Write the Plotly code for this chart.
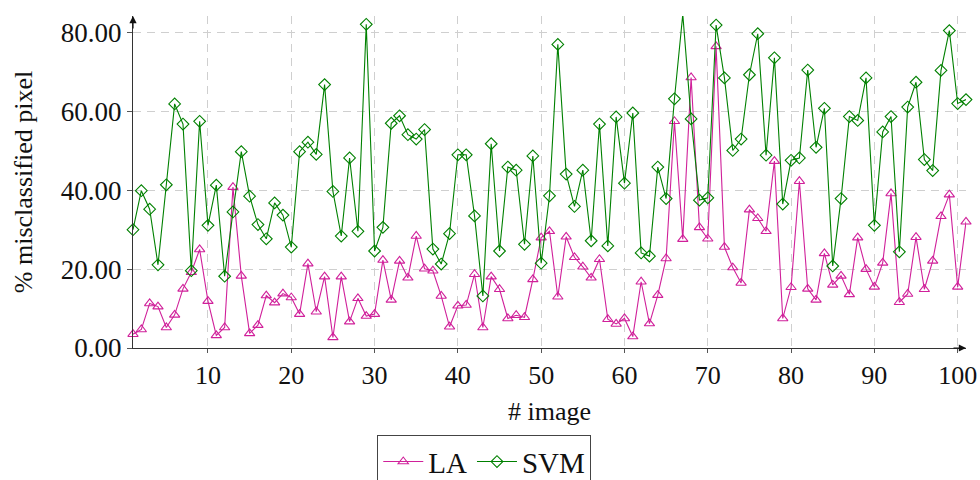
import plotly.graph_objects as go

# image index 1..101
image_idx = list(range(1, 102))

la_error = [
    3.5, 4.7, 11.3, 10.5, 5.2, 8.4, 15.0, 19.2, 25.0, 11.9,
    3.2, 5.2, 40.8, 18.3, 3.7, 5.8, 13.3, 11.5, 13.8, 12.8,
    8.6, 21.4, 9.2, 18.1, 2.7, 18.1, 6.7, 12.6, 8.1, 8.6,
    22.3, 12.2, 22.1, 17.8, 28.4, 20.1, 19.6, 13.2, 5.4, 10.7,
    10.9, 18.7, 5.2, 18.1, 14.9, 7.5, 8.3, 7.8, 17.4, 28.0,
    29.6, 13.0, 28.2, 23.0, 20.6, 17.8, 22.5, 7.3, 6.1, 7.5,
    2.9, 16.8, 6.2, 13.4, 22.7, 57.5, 27.6, 68.6, 30.6, 27.7,
    76.5, 25.6, 20.4, 16.5, 35.1, 32.9, 29.6, 47.4, 7.5, 15.4,
    42.3, 15.0, 12.2, 24.0, 16.0, 18.3, 13.6, 28.0, 20.0, 15.5,
    21.6, 39.2, 11.6, 13.7, 28.1, 14.9, 22.1, 33.4, 38.9, 15.5,
    32.0,
]

svm_error = [
    30.0, 39.9, 35.2, 21.1, 41.4, 61.9, 56.8, 19.6, 57.5, 31.1,
    41.3, 18.2, 34.5, 49.8, 38.5, 31.3, 27.7, 36.8, 33.7, 25.6,
    49.8, 52.2, 49.1, 66.8, 39.7, 28.4, 48.2, 29.6, 82.1, 24.6,
    30.6, 57.0, 58.9, 54.1, 53.0, 55.4, 25.1, 21.3, 29.0, 49.0,
    49.0, 33.5, 13.2, 51.8, 24.6, 45.9, 45.1, 26.3, 48.7, 21.5,
    38.6, 77.0, 44.1, 35.9, 45.1, 27.2, 56.8, 25.9, 58.6, 41.8,
    59.6, 24.1, 23.3, 45.9, 37.9, 63.2, 84.6, 58.1, 37.5, 38.1,
    81.9, 68.5, 50.1, 53.0, 69.3, 79.7, 48.9, 73.6, 36.5, 47.6,
    48.2, 70.5, 50.9, 60.8, 20.8, 37.9, 58.7, 57.7, 68.5, 31.1,
    54.8, 58.7, 24.4, 61.1, 67.4, 47.8, 45.0, 70.4, 80.5, 62.0,
    63.0,
]

x_ticks = [10, 20, 30, 40, 50, 60, 70, 80, 90, 100]
y_ticks = [0, 20, 40, 60, 80]

PINK = "#d0209a"
GREEN = "#008000"
FONT = "'Liberation Serif', 'DejaVu Serif', serif"
TEXT = "#111111"

fig = go.Figure()
fig.add_trace(go.Scatter(
    x=image_idx, y=la_error, name="LA", mode="lines+markers",
    line=dict(color=PINK, width=1.1),
    marker=dict(symbol="triangle-up-open", size=9, color=PINK,
                line=dict(width=1.1, color=PINK)),
    cliponaxis=False,
))
fig.add_trace(go.Scatter(
    x=image_idx, y=svm_error, name="SVM", mode="lines+markers",
    line=dict(color=GREEN, width=1.1),
    marker=dict(symbol="diamond-open", size=9, color=GREEN,
                line=dict(width=1.1, color=GREEN)),
    cliponaxis=False,
))

grid_style = dict(showgrid=True, gridcolor="#cfcfcf", gridwidth=1, griddash="8px,6px")

fig.update_xaxes(
    range=[1, 101], tickvals=x_ticks, ticktext=[str(t) for t in x_ticks],
    showline=True, linecolor="#333333", linewidth=1.2,
    ticks="outside", ticklen=4, tickcolor="#555555",
    zeroline=False, automargin=False, **grid_style,
    title=dict(text="# image", font=dict(family=FONT, size=26, color=TEXT), standoff=12),
    tickfont=dict(family=FONT, size=26, color=TEXT),
)
fig.update_yaxes(
    range=[0, 84.2], tickvals=y_ticks, ticktext=[f"{t:.2f}" for t in y_ticks],
    showline=True, linecolor="#333333", linewidth=1.2,
    ticks="outside", ticklen=5, tickcolor="#555555",
    zeroline=False, automargin=False, **grid_style,
    title=dict(text="% misclassified pixel", font=dict(family=FONT, size=26, color=TEXT), standoff=20),
    tickfont=dict(family=FONT, size=27, color=TEXT),
)

# arrow heads at the ends of both axes
fig.add_annotation(x=101, y=0, xref="x", yref="y", ax=-14, ay=0, text="",
                   showarrow=True, arrowhead=2, arrowsize=1.2, arrowwidth=1.2,
                   arrowcolor="#111", standoff=0)
fig.add_annotation(x=1, y=84.2, xref="x", yref="y", ax=0, ay=14, text="",
                   showarrow=True, arrowhead=2, arrowsize=1.2, arrowwidth=1.2,
                   arrowcolor="#111", standoff=0)

fig.update_layout(
    width=980, height=480,
    margin=dict(l=133, r=14, t=16, b=132, autoexpand=False),
    paper_bgcolor="white", plot_bgcolor="white",
    font=dict(family=FONT, size=26, color=TEXT),
    showlegend=True,
    legend=dict(
        orientation="h", x=0.293, xanchor="left", y=-0.262, yanchor="top",
        bordercolor="#444444", borderwidth=1.2, bgcolor="white",
        font=dict(family=FONT, size=29, color=TEXT),
        itemwidth=40, tracegroupgap=0, valign="middle",
    ),
)

fig.write_html("out.html")
